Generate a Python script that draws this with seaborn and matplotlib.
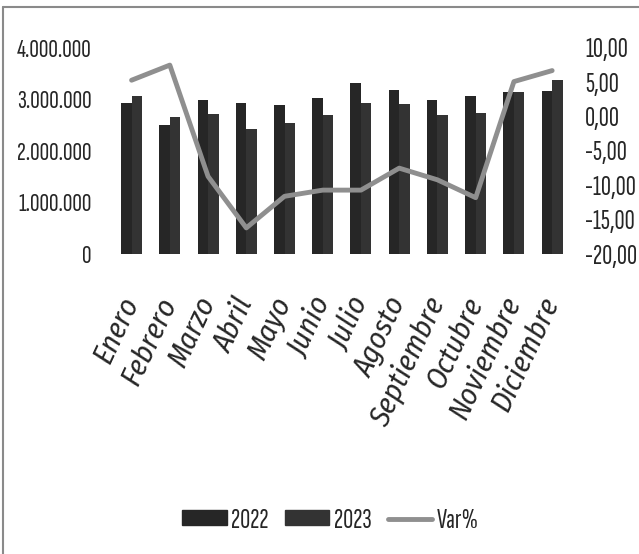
import matplotlib
matplotlib.use("Agg")
import matplotlib.pyplot as plt
import seaborn as sns
import pandas as pd
from matplotlib.ticker import FuncFormatter, FixedLocator
from matplotlib.lines import Line2D
from matplotlib.patches import Patch

meses = ["Enero", "Febrero", "Marzo", "Abril", "Mayo", "Junio", "Julio",
         "Agosto", "Septiembre", "Octubre", "Noviembre", "Diciembre"]
v2022 = [2930000, 2500000, 2990000, 2930000, 2890000, 3020000, 3310000,
         3180000, 2990000, 3070000, 3140000, 3170000]
v2023 = [3060000, 2650000, 2720000, 2430000, 2540000, 2690000, 2930000,
         2910000, 2700000, 2730000, 3140000, 3380000]
var_pct = [5.3, 7.5, -8.7, -16.2, -11.6, -10.7, -10.7, -7.5, -9.2, -11.8, 5.1, 6.7]
series_names = ["2022", "2023"]
left_ticks = [0, 1000000, 2000000, 3000000, 4000000]
right_ticks = [-20, -15, -10, -5, 0, 5, 10]

sns.set_style("white")
NARROW = ["Sofia Sans Extra Condensed", "Fira Sans Extra Condensed", "DejaVu Sans"]
plt.rcParams["font.family"] = NARROW

df = pd.DataFrame({
    "Mes": meses * 2,
    "Valor": v2022 + v2023,
    "Año": [series_names[0]] * 12 + [series_names[1]] * 12,
})

fig = plt.figure(figsize=(6.39, 5.54), dpi=100)
ax = fig.add_axes([0.176, 0.5415, 0.718, 0.372])

col22, col23 = "#262626", "#333333"
sns.barplot(data=df, x="Mes", y="Valor", hue="Año", palette=[col22, col23],
            width=0.55, ax=ax, legend=False, saturation=1, linewidth=0)

ax.set_ylim(0, 4000000)
ax.yaxis.set_major_locator(FixedLocator(left_ticks))
ax.yaxis.set_major_formatter(FuncFormatter(lambda v, p: f"{int(v):,}".replace(",", ".")))
ax.set_xlabel("")
ax.set_ylabel("")
for s in ax.spines.values():
    s.set_visible(False)
ax.tick_params(axis="y", length=0, pad=15, labelsize=19)
ax.tick_params(axis="x", length=0, pad=32)
ax.set_xticks(range(len(meses)))
ax.set_xticklabels(meses, rotation=65, ha="right", va="center",
                   rotation_mode="anchor", fontsize=21.5, style="italic")
for t in ax.get_xticklabels():
    t.set_fontfamily(["Fira Sans Condensed", "DejaVu Sans"])
ax.set_xlim(-0.5, len(meses) - 0.5)

ax2 = ax.twinx()
sns.lineplot(x=list(range(len(meses))), y=var_pct, ax=ax2, color="#8f8f8f",
             linewidth=3.5, legend=False)
ax2.set_ylim(-20, 10)
ax2.yaxis.set_major_locator(FixedLocator(right_ticks))
ax2.yaxis.set_major_formatter(FuncFormatter(lambda v, p: f"{v:.2f}".replace(".", ",")))
for s in ax2.spines.values():
    s.set_visible(False)
ax2.tick_params(axis="y", length=0, pad=10, labelsize=20)
ax2.set_ylabel("")

handles = [Patch(facecolor=col22, edgecolor=col22),
           Patch(facecolor=col23, edgecolor=col23),
           Line2D([0], [0], color="#8f8f8f", lw=3.5)]
fig.legend(handles, ["2022", "2023", "Var%"], loc="center",
           bbox_to_anchor=(0.517, 0.06), ncol=3, frameon=False,
           prop={"size": 20},
           handlelength=1.6, handleheight=0.45, columnspacing=0.6, handletextpad=0.15)

fig.add_artist(Line2D([0.005, 0.005], [0.0, 0.988], transform=fig.transFigure,
                      color="#8a8a8a", lw=1.5))
fig.add_artist(Line2D([0.005, 1.0], [0.988, 0.988], transform=fig.transFigure,
                      color="#8a8a8a", lw=1.5))

fig.savefig("out.png", dpi=100)
